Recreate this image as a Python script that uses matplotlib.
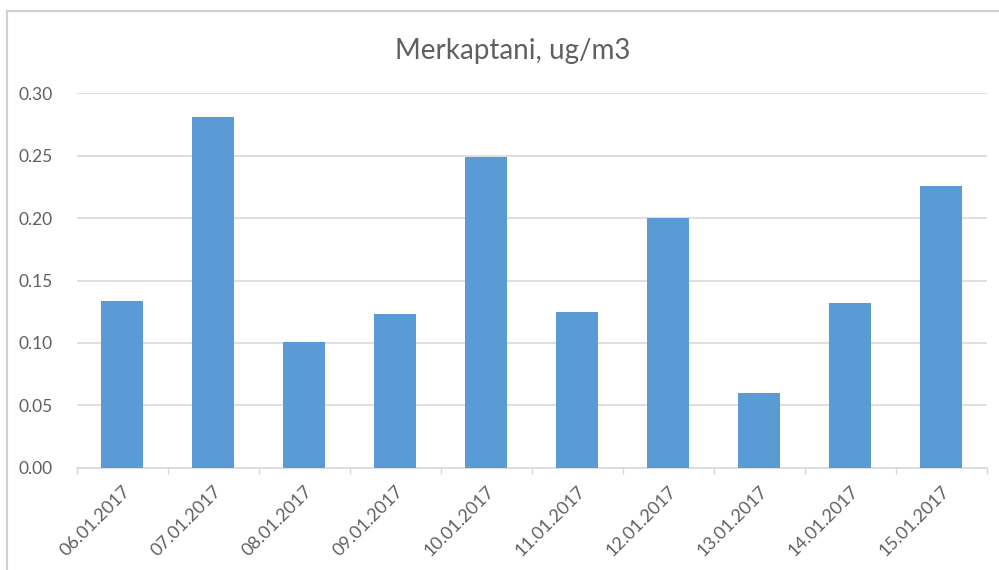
import matplotlib.pyplot as plt
from matplotlib.patches import Rectangle

# data
dates = ["06.01.2017", "07.01.2017", "08.01.2017", "09.01.2017", "10.01.2017",
         "11.01.2017", "12.01.2017", "13.01.2017", "14.01.2017", "15.01.2017"]
values = [0.134, 0.281, 0.101, 0.123, 0.249, 0.125, 0.200, 0.060, 0.132, 0.226]
yticks = [0.00, 0.05, 0.10, 0.15, 0.20, 0.25, 0.30]

plt.rcParams["font.family"] = ["Lato", "DejaVu Sans"]
text_color = "#606060"
grid_color = "#D9D9D9"

fig = plt.figure(figsize=(9.99, 5.70), dpi=100)
ax = fig.add_axes([0.0768, 0.1795, 0.9107, 0.6565])

x = list(range(len(dates)))
ax.bar(x, values, width=0.46, color="#5B9BD5", zorder=3)

ax.set_xlim(-0.5, len(dates) - 0.5)
ax.set_ylim(0, 0.30)
ax.set_yticks(yticks)
ax.set_yticklabels([f"{v:.2f}" for v in yticks])
ax.yaxis.grid(True, color=grid_color, linewidth=1.2, zorder=0)

# category boundary ticks on the x axis
ax.set_xticks([i - 0.5 for i in range(len(dates) + 1)], minor=False)
ax.set_xticklabels([])
ax.tick_params(axis="x", length=4, color=grid_color, width=1)
ax.tick_params(axis="y", length=0, labelsize=12.5, labelcolor=text_color, pad=17)

for i, d in enumerate(dates):
    ax.annotate(d, xy=(i, 0), xycoords=("data", "axes fraction"),
                xytext=(0, -11), textcoords="offset points",
                rotation=45, ha="right", va="top", rotation_mode="anchor",
                fontsize=13, color=text_color)

for side in ["left", "right", "top"]:
    ax.spines[side].set_visible(False)
ax.spines["bottom"].set_color(grid_color)
ax.spines["bottom"].set_linewidth(1.2)

fig.text(0.513, 0.911, "Merkaptani, ug/m3", ha="center", va="center",
         fontsize=20, color=text_color)

# chart border
fig.patches.append(Rectangle((7 / 999, -0.05), 1.1, 1 - 11 / 570 + 0.05,
                             transform=fig.transFigure, fill=False,
                             edgecolor="#D0D0D0", linewidth=1.5))

fig.savefig("out.png", dpi=100)
